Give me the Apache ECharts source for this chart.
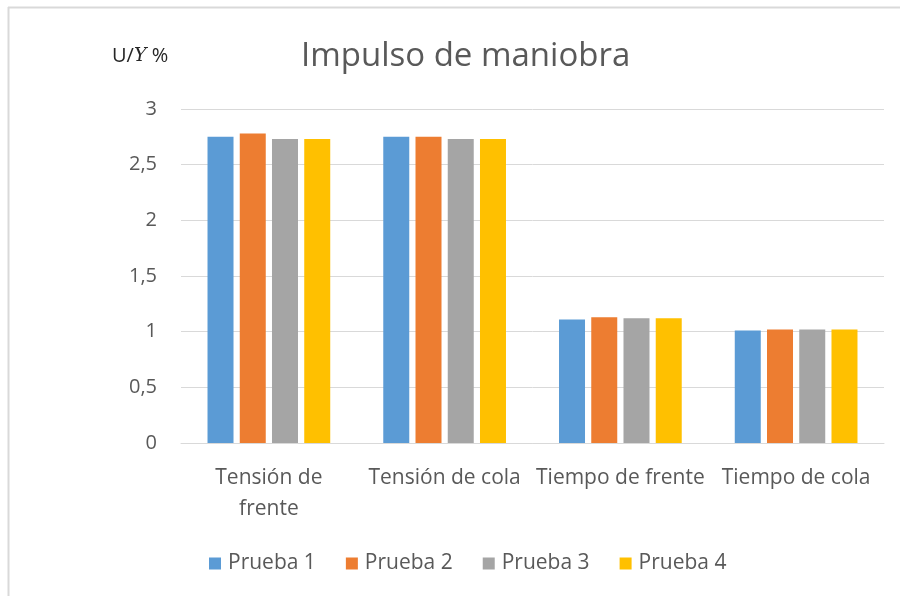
<!DOCTYPE html>
<html>
<head>
<meta charset="utf-8">
<script src="https://cdn.jsdelivr.net/npm/echarts@6/dist/echarts.min.js"></script>
<style>html,body{margin:0;padding:0;background:#fff}#c{width:900px;height:596px}</style>
</head>
<body>
<div id="c"></div>
<script>
const categories = ["Tensión de\nfrente", "Tensión de cola", "Tiempo de frente", "Tiempo de cola"];
const seriesNames = ["Prueba 1", "Prueba 2", "Prueba 3", "Prueba 4"];
const prueba1 = [2.75, 2.75, 1.11, 1.01];
const prueba2 = [2.78, 2.75, 1.13, 1.02];
const prueba3 = [2.73, 2.73, 1.12, 1.02];
const prueba4 = [2.73, 2.73, 1.12, 1.02];
const colors = ["#5B9BD5", "#ED7D31", "#A5A5A5", "#FFC000"];
const FONT = "Open Sans";

const chart = echarts.init(document.getElementById('c'));
const values = [prueba1, prueba2, prueba3, prueba4];
chart.setOption({
  animation: false,
  textStyle: { fontFamily: FONT },
  title: [{
    text: "Impulso de maniobra",
    left: 296, top: 35,
    textStyle: { fontFamily: FONT, fontSize: 33, fontWeight: 'normal', color: '#595959' }
  }, {
    text: "{a|U/}{b|Y}{a| %}",
    left: 107, top: 41,
    textStyle: {
      fontWeight: 'normal',
      rich: {
        a: { fontFamily: FONT, fontSize: 20, fontWeight: 'normal', color: '#262626' },
        b: { fontFamily: 'DejaVu Serif', fontStyle: 'italic', fontWeight: 'normal', fontSize: 19, color: '#262626' }
      }
    }
  }],
  legend: {
    data: seriesNames,
    left: 204, top: 548,
    itemWidth: 12, itemHeight: 12, itemGap: 30,
    icon: 'rect',
    textStyle: { fontFamily: FONT, fontSize: 21, color: '#595959', padding: [0, 0, 0, 2] }
  },
  grid: { left: 181, right: 16, top: 109, bottom: 153, containLabel: false },
  xAxis: {
    type: 'category',
    data: categories,
    axisLine: { lineStyle: { color: '#d9d9d9' } },
    axisTick: { show: false },
    axisLabel: { fontFamily: FONT, fontSize: 21, color: '#595959', margin: 20, lineHeight: 31, interval: 0 }
  },
  yAxis: {
    type: 'value', min: 0, max: 3, interval: 0.5,
    axisLine: { show: false }, axisTick: { show: false },
    splitLine: { lineStyle: { color: '#d9d9d9' } },
    axisLabel: { fontFamily: FONT, fontSize: 20, color: '#595959', margin: 24,
      formatter: v => String(v).replace('.', ',') }
  },
  series: seriesNames.map((n, i) => ({
    name: n, type: 'bar', data: values[i],
    barWidth: 26, barGap: '24%',
    itemStyle: { color: colors[i] }
  })),
  graphic: [
    { type: 'line', shape: { x1: 8, y1: 7.5, x2: 900, y2: 7.5 }, style: { stroke: '#d9d9d9', lineWidth: 2 } },
    { type: 'line', shape: { x1: 8.5, y1: 7, x2: 8.5, y2: 596 }, style: { stroke: '#d9d9d9', lineWidth: 2 } }
  ]
});
</script>
</body>
</html>
